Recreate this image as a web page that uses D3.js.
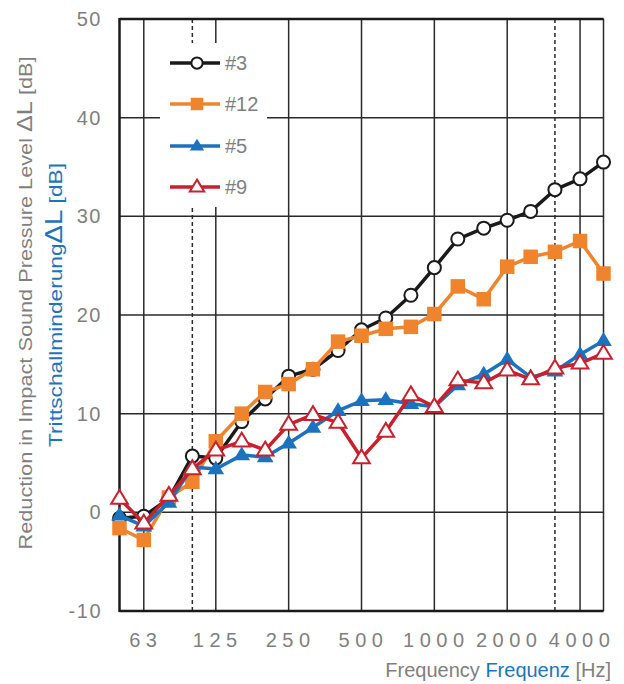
<!DOCTYPE html>
<html>
<head>
    <title>Reduction in Impact Sound Pressure Level</title>
    <style>
        body { margin: 0; background: #fff; }
        svg { display: block; font-family: "Liberation Sans", Arial, sans-serif; }
    </style>
</head>
<body>
    <div id="chart"></div>

    <script src="https://d3js.org/d3.v7.min.js"></script>
    <script>
        // 1/3 octave band frequencies
        var freqs = [50, 63, 80, 100, 125, 160, 200, 250, 315, 400, 500, 630, 800,
                     1000, 1250, 1600, 2000, 2500, 3150, 4000, 5000];

        // series values (dB)
        var s3  = [-0.6, -0.4, 1.4, 5.7, 5.5, 9.2, 11.5, 13.8, 14.5, 16.4, 18.5, 19.7, 22.0,
                   24.8, 27.7, 28.8, 29.6, 30.5, 32.7, 33.8, 35.5];
        var s12 = [-1.6, -2.8, 1.5, 3.1, 7.2, 10.0, 12.2, 13.0, 14.5, 17.3, 17.9, 18.6, 18.8,
                   20.1, 22.9, 21.6, 24.9, 25.9, 26.4, 27.5, 24.2];
        var s5  = [-0.3, -1.4, 1.0, 4.6, 4.4, 5.8, 5.6, 7.0, 8.6, 10.3, 11.3, 11.4, 11.0,
                   10.7, 12.9, 14.0, 15.5, 13.7, 14.3, 16.0, 17.4];
        var s9  = [1.4, -1.1, 1.7, 4.4, 6.3, 7.2, 6.3, 8.9, 9.9, 9.1, 5.5, 8.2, 11.9,
                   10.7, 13.4, 13.1, 14.4, 13.5, 14.6, 15.1, 16.1];

        var seriesNames = ["#3", "#12", "#5", "#9"];
        var xTicks = [63, 125, 250, 500, 1000, 2000, 4000];
        var xDashed = [100, 3150];
        var yTicks = [-10, 0, 10, 20, 30, 40, 50];

        var series = [
            { name: seriesNames[0], values: s3,  color: "#1a1a1a", marker: "circle" },
            { name: seriesNames[1], values: s12, color: "#f0842c", marker: "square" },
            { name: seriesNames[2], values: s5,  color: "#1b72be", marker: "tri" },
            { name: seriesNames[3], values: s9,  color: "#c8202c", marker: "tri-open" }
        ];

        var width = 624, height = 684;
        var pL = 119.5, pR = 603.5, pT = 19, pB = 611;
        var grey = "#7f7f7f", blue = "#1c74bc";

        var svg = d3.select("#chart").append("svg")
            .attr("width", width)
            .attr("height", height);

        var x = d3.scaleLog().domain([50, 5000]).range([pL, pR]);
        var y = d3.scaleLinear().domain([-10, 50]).range([pB, pT]);

        // grid
        var grid = svg.append("g");
        grid.selectAll(".hg").data(yTicks).enter().append("line")
            .attr("x1", pL).attr("x2", pR)
            .attr("y1", function (d) { return y(d); })
            .attr("y2", function (d) { return y(d); })
            .attr("stroke", "#2a2a2a").attr("stroke-width", 1.5);
        grid.selectAll(".vg").data(xTicks).enter().append("line")
            .attr("x1", function (d) { return x(d); })
            .attr("x2", function (d) { return x(d); })
            .attr("y1", pT).attr("y2", pB)
            .attr("stroke", "#2a2a2a").attr("stroke-width", 1.5);
        grid.selectAll(".dg").data(xDashed).enter().append("line")
            .attr("x1", function (d) { return x(d); })
            .attr("x2", function (d) { return x(d); })
            .attr("y1", pT).attr("y2", pB)
            .attr("stroke", "#2a2a2a").attr("stroke-width", 1.5)
            .attr("stroke-dasharray", "4,3");
        // right border
        grid.append("line").attr("x1", pR).attr("x2", pR)
            .attr("y1", pT).attr("y2", pB)
            .attr("stroke", "#2a2a2a").attr("stroke-width", 1.5);

        // legend background (covers grid)
        svg.append("rect").attr("x", 160).attr("y", 43)
            .attr("width", 107).attr("height", 164).attr("fill", "#fff");

        // axes frame
        svg.append("line").attr("x1", pL).attr("x2", pL).attr("y1", pT - 1).attr("y2", pB + 1)
            .attr("stroke", "#1a1a1a").attr("stroke-width", 2.5);
        svg.append("line").attr("x1", pL).attr("x2", pR).attr("y1", pB).attr("y2", pB)
            .attr("stroke", "#1a1a1a").attr("stroke-width", 2.5);
        svg.append("line").attr("x1", pL).attr("x2", pR).attr("y1", pT).attr("y2", pT)
            .attr("stroke", "#1a1a1a").attr("stroke-width", 2.5);

        // tick labels
        svg.selectAll(".yl").data(yTicks).enter().append("text")
            .attr("x", 102).attr("y", function (d) { return y(d) + 7; })
            .attr("text-anchor", "end")
            .attr("fill", grey).attr("font-size", 20).attr("letter-spacing", 1.5)
            .text(function (d) { return d; });

        svg.selectAll(".xl").data(xTicks).enter().append("text")
            .attr("x", function (d) { return x(d) + 2; }).attr("y", 647)
            .attr("text-anchor", "middle")
            .attr("fill", grey).attr("font-size", 20).attr("letter-spacing", 5.5)
            .text(function (d) { return d; });

        // axis titles
        var xt = svg.append("text").attr("x", 611).attr("y", 677)
            .attr("text-anchor", "end").attr("font-size", 20);
        xt.append("tspan").attr("fill", grey).text("Frequency ");
        xt.append("tspan").attr("fill", blue).text("Frequenz ");
        xt.append("tspan").attr("fill", grey).text("[Hz]");

        var yt1 = svg.append("text")
            .attr("transform", "translate(32,303) rotate(-90)")
            .attr("text-anchor", "middle").attr("fill", grey).attr("font-size", 19)
            .attr("textLength", 493).attr("lengthAdjust", "spacingAndGlyphs");
        yt1.append("tspan").text("Reduction in Impact Sound Pressure Level  ");
        yt1.append("tspan").attr("font-size", 22).text("ΔL");
        yt1.append("tspan").text(" [dB]");

        var yt2 = svg.append("text")
            .attr("transform", "translate(62,305) rotate(-90)")
            .attr("text-anchor", "middle").attr("fill", blue).attr("font-size", 19)
            .attr("textLength", 284).attr("lengthAdjust", "spacingAndGlyphs");
        yt2.append("tspan").text("Trittschallminderung");
        yt2.append("tspan").attr("font-size", 23).text("ΔL");
        yt2.append("tspan").text(" [dB]");

        // markers
        function drawMarker(sel, s, size) {
            if (s.marker === "circle") {
                sel.append("circle").attr("r", size * 0.45)
                    .attr("fill", "#fff").attr("stroke", s.color).attr("stroke-width", 2);
            } else if (s.marker === "square") {
                sel.append("rect").attr("x", -size / 2).attr("y", -size / 2)
                    .attr("width", size).attr("height", size).attr("fill", s.color);
            } else {
                var h = size * 0.95, w = size * 1.15;
                var pts = [[0, -h * 0.62], [w / 2, h * 0.38], [-w / 2, h * 0.38]];
                sel.append("polygon").attr("points", pts.map(function (p) { return p.join(","); }).join(" "))
                    .attr("fill", s.marker === "tri" ? s.color : "#fff")
                    .attr("stroke", s.color).attr("stroke-width", s.marker === "tri" ? 0 : 2)
                    .attr("stroke-linejoin", "miter");
            }
        }

        var line = d3.line()
            .x(function (d, i) { return x(freqs[i]); })
            .y(function (d) { return y(d); });

        series.forEach(function (s) {
            var g = svg.append("g");
            g.append("path").datum(s.values).attr("d", line)
                .attr("fill", "none").attr("stroke", s.color).attr("stroke-width", 3.5)
                .attr("stroke-linejoin", "round");
            g.selectAll(".m").data(s.values).enter().append("g")
                .attr("transform", function (d, i) { return "translate(" + x(freqs[i]) + "," + y(d) + ")"; })
                .each(function () { drawMarker(d3.select(this), s, 14.5); });
        });

        // legend
        var legY = [63, 104, 146, 187];
        series.forEach(function (s, i) {
            var g = svg.append("g").attr("transform", "translate(0," + legY[i] + ")");
            g.append("line").attr("x1", 170).attr("x2", 220).attr("y1", 0).attr("y2", 0)
                .attr("stroke", s.color).attr("stroke-width", 3.5);
            var m = g.append("g").attr("transform", "translate(197,0)");
            drawMarker(m, s, 12.5);
            g.append("text").attr("x", 225).attr("y", 7)
                .attr("fill", grey).attr("font-size", 20).text(s.name);
        });
    </script>
</body>
</html>
